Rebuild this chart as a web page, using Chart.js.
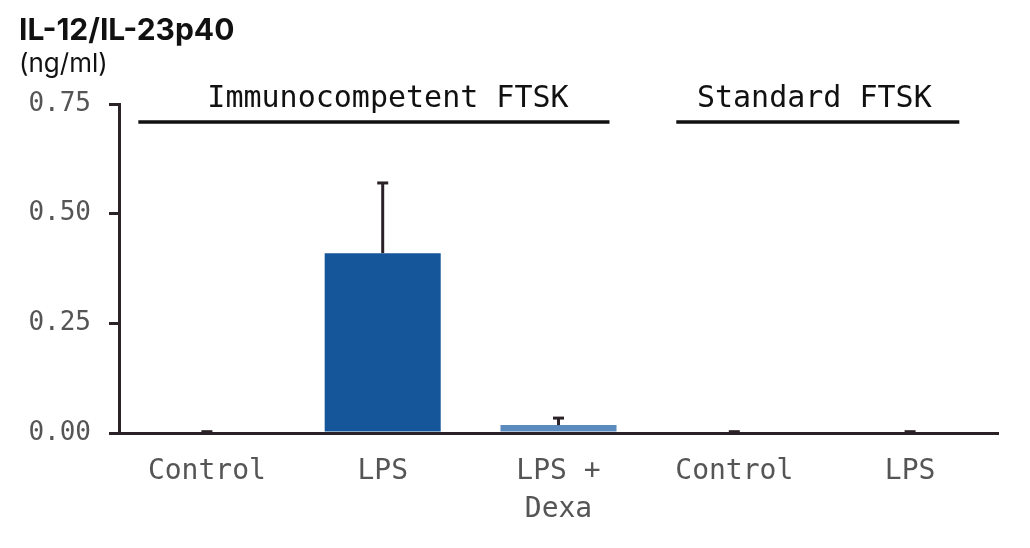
<!DOCTYPE html>
<html><head><meta charset="utf-8">
<script src="https://cdn.jsdelivr.net/npm/chart.js@4/dist/chart.umd.min.js"></script>
<style>html,body{margin:0;padding:0;background:#fff}#wrap{width:1030px;height:548px;position:relative}</style>
</head><body><div id="wrap"><canvas id="c" width="1030" height="548"></canvas></div>
<script>
// ---- data ----
const categories = [["Control"], ["LPS"], ["LPS +", "Dexa"], ["Control"], ["LPS"]];
const values = [0, 0.41, 0.018, 0, 0];
const errors = [0.003, 0.16, 0.016, 0.003, 0.003];
const yTicks = [0, 0.25, 0.5, 0.75];
const groupLabels = ["Immunocompetent FTSK", "Standard FTSK"];
const groupFrom = [0, 3];
const groupTo = [2, 4];
const titleText = "IL-12/IL-23p40";
const unitText = "(ng/ml)";

// ---- styles ----
const barColors = ["#15569a", "#15569a", "#5b8bbe", "#15569a", "#15569a"];
const axisColor = "#2b2228";
const tickColor = "#555555";
const mono = "'DejaVu Sans Mono', 'Liberation Mono', monospace";
const groupInsetL = [0.39, 0.33];
const groupInsetR = [0.29, 0.28];
const groupTextShift = [0.03, -0.045];

const overlay = {
  id: 'overlay',
  afterDatasetsDraw(chart) {
    const ctx = chart.ctx, y = chart.scales.y;
    const meta = chart.getDatasetMeta(0);
    ctx.save();
    ctx.strokeStyle = axisColor; ctx.lineWidth = 3; ctx.lineCap = 'butt';
    meta.data.forEach((bar, i) => {
      const yb = y.getPixelForValue(values[i]);
      const yt = y.getPixelForValue(values[i] + errors[i]);
      ctx.beginPath(); ctx.moveTo(bar.x, yb); ctx.lineTo(bar.x, yt); ctx.stroke();
      ctx.beginPath(); ctx.moveTo(bar.x - 5.5, yt); ctx.lineTo(bar.x + 5.5, yt); ctx.stroke();
    });
    ctx.restore();
  },
  afterDraw(chart) {
    const ctx = chart.ctx, x = chart.scales.x, top = chart.chartArea.top;
    const catW = x.getPixelForValue(1) - x.getPixelForValue(0);
    ctx.save();
    ctx.fillStyle = '#111';
    ctx.textAlign = 'left'; ctx.textBaseline = 'alphabetic';
    ctx.font = "bold 30px Inter, 'Noto Sans', sans-serif";
    ctx.fillText(titleText, 19, 40);
    ctx.font = "26px Inter, 'Noto Sans', sans-serif";
    ctx.fillText(unitText, 19, 72);
    groupLabels.forEach((lab, g) => {
      const c0 = x.getPixelForValue(groupFrom[g]);
      const c1 = x.getPixelForValue(groupTo[g]);
      const x0 = c0 - groupInsetL[g] * catW, x1 = c1 + groupInsetR[g] * catW;
      ctx.strokeStyle = '#111'; ctx.lineWidth = 3.5;
      ctx.beginPath(); ctx.moveTo(x0, top + 18); ctx.lineTo(x1, top + 18); ctx.stroke();
      ctx.fillStyle = '#111'; ctx.textAlign = 'center';
      ctx.font = "30px " + mono;
      ctx.fillText(lab, (c0 + c1) / 2 + groupTextShift[g] * catW, top + 3);
    });
    ctx.restore();
  }
};

new Chart(document.getElementById('c'), {
  type: 'bar',
  data: {
    labels: categories,
    datasets: [{ data: values, backgroundColor: barColors, barPercentage: 0.66, categoryPercentage: 1, borderWidth: 0 }]
  },
  options: {
    responsive: false, animation: false, devicePixelRatio: 1,
    layout: { padding: { top: 104, right: 32, left: 0, bottom: 0 } },
    plugins: { legend: { display: false }, tooltip: { enabled: false } },
    scales: {
      x: {
        z: 1,
        grid: { display: false, drawTicks: false },
        border: { display: true, color: axisColor, width: 3 },
        ticks: { color: tickColor, font: { family: mono, size: 28, lineHeight: 1.35 }, padding: 20, maxRotation: 0, autoSkip: false },
        afterFit(s) { s.height = 115; }
      },
      y: {
        min: 0, max: 0.75,
        afterBuildTicks(s) { s.ticks = yTicks.map(v => ({ value: v })); },
        grid: { drawOnChartArea: false, drawTicks: true, tickLength: 10, color: axisColor, lineWidth: 3 },
        border: { display: true, color: axisColor, width: 3 },
        ticks: { color: tickColor, font: { family: mono, size: 26 }, padding: 18, callback: v => Number(v).toFixed(2) },
        afterFit(s) { s.width = 119; }
      }
    }
  },
  plugins: [overlay]
});
</script>
</body></html>
